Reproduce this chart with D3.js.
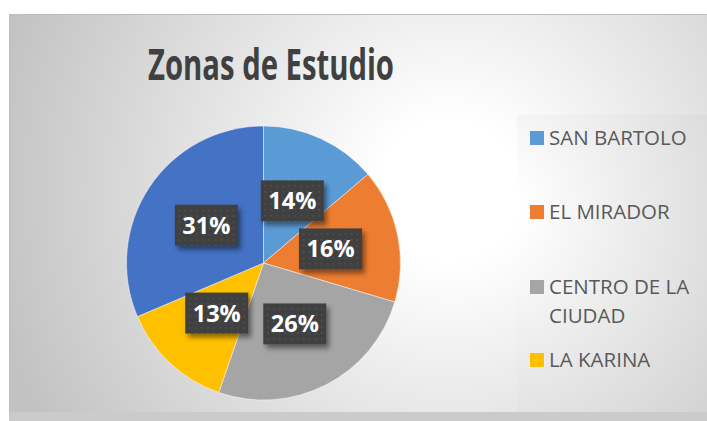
<!DOCTYPE html>
<html>
<head>
<meta charset="utf-8">
<script src="https://d3js.org/d3.v7.min.js"></script>
<style>
    body { margin: 0; background: #fff; }
    .legend text { font-family: "Open Sans", sans-serif; font-size: 20.5px; fill: #595959; }
    .lbl text { font-family: "Open Sans", sans-serif; font-weight: bold; font-size: 23.5px; fill: #fff; }
</style>
</head>
<body>
<div id="chart"></div>
<script>
    // data
    var zonas = ["SAN BARTOLO", "EL MIRADOR", "CENTRO DE LA CIUDAD", "LA KARINA", ""];
    var valores = [13.8, 15.8, 25.7, 13.3, 31.4];
    var colores = ["#5B9BD5", "#ED7D31", "#A5A5A5", "#FFC000", "#4472C4"];
    var legendLines = [["SAN BARTOLO"], ["EL MIRADOR"], ["CENTRO DE LA", "CIUDAD"], ["LA KARINA"]];

    var width = 707, height = 421;
    var cx = 263.5, cy = 263, radius = 137;

    var svg = d3.select("#chart").append("svg")
        .attr("width", width)
        .attr("height", height);

    var defs = svg.append("defs");

    var bg = defs.append("radialGradient")
        .attr("id", "bg")
        .attr("gradientUnits", "userSpaceOnUse")
        .attr("cx", 450).attr("cy", 190).attr("r", 470);
    bg.append("stop").attr("offset", "0.15").attr("stop-color", "#ffffff");
    bg.append("stop").attr("offset", "1").attr("stop-color", "#c2c2c2");

    var lg = defs.append("radialGradient")
        .attr("id", "lg")
        .attr("gradientUnits", "userSpaceOnUse")
        .attr("cx", 480).attr("cy", 210).attr("r", 320);
    lg.append("stop").attr("offset", "0.12").attr("stop-color", "#ffffff");
    lg.append("stop").attr("offset", "1").attr("stop-color", "#d0d0d0");

    // dotted texture of the label boxes
    var pat = defs.append("pattern")
        .attr("id", "dots")
        .attr("patternUnits", "userSpaceOnUse")
        .attr("width", 6).attr("height", 6);
    pat.append("rect").attr("width", 6).attr("height", 6).attr("fill", "#3f3f3f");
    pat.append("rect").attr("x", 2).attr("y", 2).attr("width", 2).attr("height", 2).attr("fill", "#4d4d4d");

    var shadow = defs.append("filter").attr("id", "shadow")
        .attr("x", "-20%").attr("y", "-20%").attr("width", "150%").attr("height", "160%");
    shadow.append("feDropShadow")
        .attr("dx", 3).attr("dy", 4).attr("stdDeviation", 2.5)
        .attr("flood-color", "#000").attr("flood-opacity", 0.45);

    // chart frame
    svg.append("rect")
        .attr("x", 9).attr("y", 14)
        .attr("width", width - 9).attr("height", 398)
        .attr("fill", "url(#bg)");
    svg.append("line")
        .attr("x1", 9).attr("x2", width).attr("y1", 14.5).attr("y2", 14.5)
        .attr("stroke", "#bdbdbd");
    svg.append("line")
        .attr("x1", 9.5).attr("x2", 9.5).attr("y1", 14).attr("y2", 412)
        .attr("stroke", "#bdbdbd");
    svg.append("rect")
        .attr("x", 9).attr("y", 412)
        .attr("width", width - 9).attr("height", 9)
        .attr("fill", "#cbcbcb");

    svg.append("text")
        .attr("x", 271)
        .attr("y", 80)
        .attr("text-anchor", "middle")
        .attr("textLength", 246)
        .attr("lengthAdjust", "spacingAndGlyphs")
        .style("font-family", "'Open Sans', sans-serif")
        .style("font-weight", "bold")
        .style("font-size", "43px")
        .style("fill", "#404040")
        .text("Zonas de Estudio");

    // pie
    var pie = d3.pie().sort(null).value(function (d) { return d; });
    var arc = d3.arc().innerRadius(0).outerRadius(radius);
    var arcs = pie(valores);
    var total = d3.sum(valores);

    var g = svg.append("g").attr("transform", "translate(" + cx + "," + cy + ")");

    g.selectAll("path")
        .data(arcs)
        .enter().append("path")
        .attr("d", arc)
        .attr("fill", function (d, i) { return colores[i]; })
        .attr("stroke", "#ffffff")
        .attr("stroke-opacity", 0.6)
        .attr("stroke-width", 0.8);

    var fmt = d3.format(".0%");
    var bw = 63, bh = 41;

    var labels = g.selectAll(".lbl")
        .data(arcs)
        .enter().append("g")
        .attr("class", "lbl")
        .attr("transform", function (d) { return "translate(" + arc.centroid(d) + ")"; });

    labels.append("rect")
        .attr("x", -bw / 2).attr("y", -bh / 2)
        .attr("width", bw).attr("height", bh)
        .attr("fill", "url(#dots)")
        .attr("filter", "url(#shadow)");

    labels.append("text")
        .attr("text-anchor", "middle")
        .attr("y", 8.5)
        .text(function (d) { return fmt(d.value / total); });

    // legend
    svg.append("rect")
        .attr("x", 517).attr("y", 115)
        .attr("width", width - 517).attr("height", 297)
        .attr("fill", "url(#lg)");

    var legY = [145, 219, 294, 367];
    var legend = svg.append("g").attr("class", "legend")
        .selectAll("g")
        .data(legendLines)
        .enter().append("g")
        .attr("transform", function (d, i) { return "translate(530," + legY[i] + ")"; });

    legend.append("rect")
        .attr("x", 0).attr("y", -14)
        .attr("width", 14).attr("height", 14)
        .attr("fill", function (d, i) { return colores[i]; });

    legend.append("text")
        .attr("x", 19)
        .selectAll("tspan")
        .data(function (d) { return d; })
        .enter().append("tspan")
        .attr("x", 19)
        .attr("dy", function (d, i) { return i == 0 ? 0 : 29; })
        .text(function (d) { return d; });
</script>
</body>
</html>
